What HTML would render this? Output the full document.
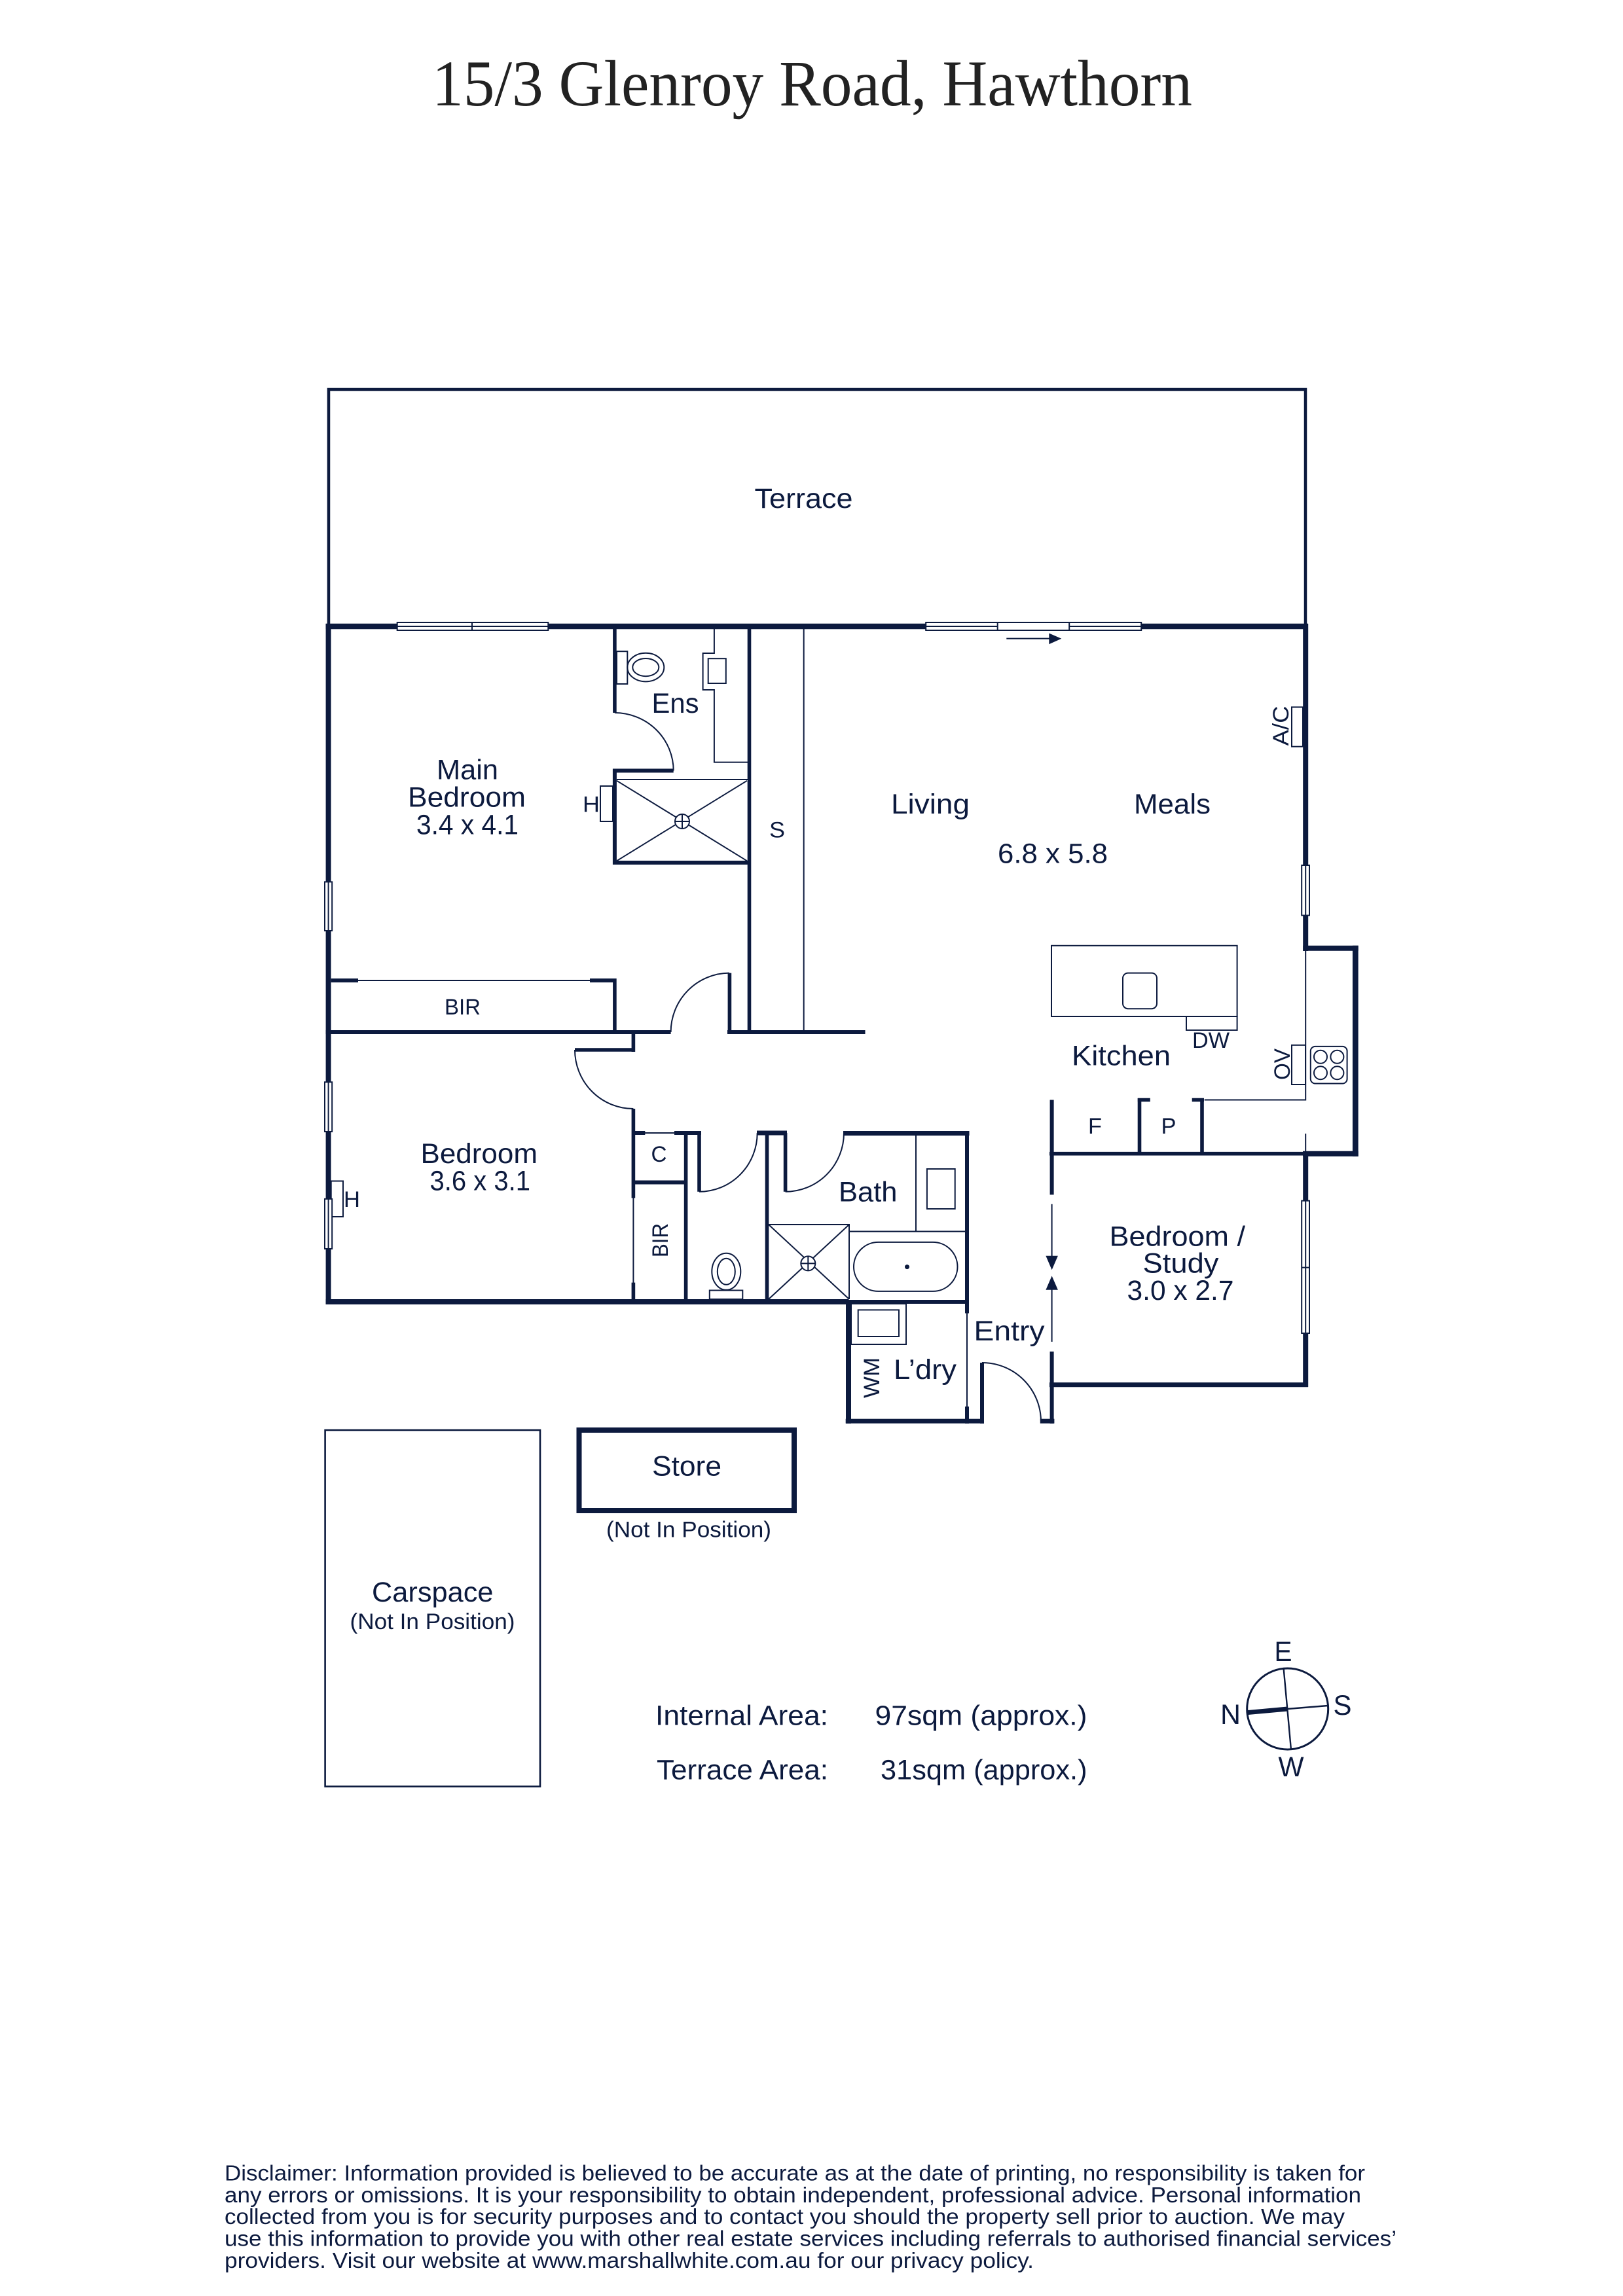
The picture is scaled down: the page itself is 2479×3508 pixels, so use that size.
<!DOCTYPE html>
<html lang="en">
<head>
<meta charset="utf-8">
<title>15/3 Glenroy Road, Hawthorn</title>
<style>
html,body{margin:0;padding:0;background:#fff;}
svg{display:block;}
text{font-family:"Liberation Sans",sans-serif;fill:#0c1a3e;stroke:none;}
.t41{font-size:42.5px;}
.t33{font-size:34px;}
.d{font-size:33px;}
.title{font-family:"Liberation Serif",serif;font-size:100px;fill:#222;}
.w8{stroke-width:8;}
.w7{stroke-width:7;}
.w6{stroke-width:6;}
.w5{stroke-width:5.6;}
.th{stroke-width:2;}
.win{fill:#fff;stroke-width:2;}
</style>
</head>
<body>
<svg xmlns="http://www.w3.org/2000/svg" width="2479" height="3508" viewBox="0 0 2479 3508">
<rect width="2479" height="3508" fill="#fff"/>
<text class="title" x="660" y="161" textLength="1161" lengthAdjust="spacingAndGlyphs">15/3 Glenroy Road, Hawthorn</text>

<g fill="none" stroke="#0c1a3e">
<!-- terrace -->
<path d="M502 957V595H1994V957" stroke-width="4.5"/>

<!-- outer walls -->
<path class="w8" d="M497.6 957H1998" style="stroke-width:8.6"/>
<path class="w8" d="M501.6 953V1993"/>
<path class="w8" d="M497.6 1989H1296"/>
<path class="w6" d="M1296 1989H1480"/>
<path class="w8" d="M1994.2 953V1453"/>
<path class="w8" d="M1990.2 1448.7H2074.7"/>
<path d="M2070.3 1444.7V1766.7" stroke-width="8.7"/>
<path class="w5" d="M1603 1762.7H1994"/>
<path class="w8" d="M1990 1762.7H2074.7"/>
<path class="w8" d="M1994.2 1759V2119"/>
<path class="w7" d="M1603 2115.7H1998"/>
<path class="w6" d="M1606.6 1680.5V1825.4M1606.6 2065V2175"/>
<path class="w7" d="M1588.8 2171.3H1610.4"/>

<!-- ensuite -->
<path class="w5" d="M938.9 957V1089"/>
<path class="w6" d="M1028.7 1177.5H938.9V1321M936 1318H1147"/>
<path class="th" d="M938.9 1089A90 88.5 0 0 1 1028.7 1177.5"/>
<rect class="th" x="942" y="995.2" width="16.3" height="49.8"/>
<ellipse class="th" cx="986.3" cy="1019.6" rx="28" ry="21.8"/>
<ellipse class="th" cx="986.3" cy="1019.6" rx="20" ry="13.6"/>
<path class="th" d="M1090.9 961V998H1073.6V1054H1090.9V1164.6H1142"/>
<rect class="th" x="1081.7" y="1006.2" width="27.1" height="37.8"/>
<path class="th" d="M942 1191H1142"/>
<path class="th" d="M942 1192.8L1141 1315.3M1141 1192.8L942 1315.3"/>
<circle cx="1042" cy="1255" r="11" fill="#fff" stroke-width="2"/>
<path class="th" d="M1031 1255H1053M1042 1244V1266"/>
<rect class="th" x="917" y="1201" width="19" height="54"/>

<!-- store strip -->
<path class="w5" d="M1144.5 957V1577"/>
<path class="th" d="M1227.7 957V1577"/>

<!-- BIR main -->
<path class="th" d="M547 1498H901"/>
<path class="w6" d="M505.7 1498H547M901 1498H939"/>
<path class="w5" d="M938.9 1495V1577"/>
<path class="w6" d="M497.6 1577H1024.6M1111 1577H1321.5"/>

<!-- main door -->
<path class="w5" d="M1114.4 1486.6V1577"/>
<path class="th" d="M1113.9 1486.6A90 90.4 0 0 0 1024.6 1577"/>

<!-- bedroom door -->
<path class="w5" d="M967.4 1577V1607M878 1604H970"/>
<path class="th" d="M878 1604A89.4 90 0 0 0 967.4 1694"/>
<path class="w5" d="M967.4 1694V1830.4M967.4 1959.6V1989"/>
<path class="th" d="M967.4 1830V1960"/>

<!-- C + BIR -->
<path class="w6" d="M970 1731H985.3M1030 1731H1071"/>
<path class="th" d="M985 1731H1030"/>
<path class="w5" d="M1047.6 1731V1989"/>
<path class="w6" d="M967.4 1806.5H1047.6"/>

<!-- wc door -->
<path class="w5" d="M1068 1728V1820.8"/>
<path class="th" d="M1068 1820.8A89 89.8 0 0 0 1156.7 1731"/>
<path class="w7" d="M1156 1731H1202"/>
<path class="w5" d="M1171.5 1731V1989"/>
<ellipse class="th" cx="1109.3" cy="1942.8" rx="22" ry="28"/>
<ellipse class="th" cx="1109.3" cy="1942.8" rx="13.5" ry="20"/>
<rect class="th" x="1083.8" y="1971.5" width="50.5" height="13.5"/>

<!-- bath -->
<path class="w5" d="M1199.6 1731V1820.8"/>
<path class="th" d="M1199.6 1820.8A89.5 89.8 0 0 0 1289 1731"/>
<path class="w7" d="M1288 1731.5H1480.5"/>
<path class="w6" d="M1477 1728V2006.5M1477 2149V2175"/>
<path class="th" d="M1477 2006.5V2149"/>
<path class="th" d="M1399 1734.6V1881.5M1297 1881.5H1475"/>
<rect class="th" x="1415.9" y="1786" width="42.8" height="61"/>
<rect class="th" x="1304" y="1897.9" width="158.5" height="75" rx="37.5" ry="37.5"/>
<circle cx="1385.5" cy="1935.6" r="3.5" fill="#0c1a3e" stroke="none"/>
<path class="th" d="M1174 1871H1297V1985"/>
<path class="th" d="M1174 1871L1297 1985M1297 1871L1174 1985"/>
<circle cx="1234.3" cy="1930.4" r="11" fill="#fff" stroke-width="2"/>
<path class="th" d="M1223.3 1930.4H1245.3M1234.3 1919.4V1941.4"/>

<!-- laundry -->
<path class="w8" d="M1296 1986V2175"/>
<path class="w7" d="M1291.7 2171.3H1502.5"/>
<rect class="th" x="1300" y="1992" width="84" height="62"/>
<rect class="th" x="1310.7" y="2001.4" width="62.3" height="40.6"/>

<!-- entry door -->
<path class="w6" d="M1500 2082V2175"/>
<path class="th" d="M1500 2082A90 90 0 0 1 1590 2172"/>

<!-- sliding arrows -->
<path class="th" d="M1606.6 1839.7V1920M1606.6 1970V2050"/>
<path d="M1597.4 1918.8H1615.9L1606.6 1940.2Z" fill="#0c1a3e" stroke="none"/>
<path d="M1597.4 1970.8H1615.9L1606.6 1949.4Z" fill="#0c1a3e" stroke="none"/>

<!-- kitchen -->
<rect class="th" x="1606" y="1444.8" width="283.6" height="108.2"/>
<rect class="th" x="1715" y="1486.6" width="52" height="54.6" rx="8"/>
<rect class="th" x="1812" y="1553" width="77.6" height="20.9"/>
<path class="th" d="M1994.2 1449V1680.5H1839.7M1994.2 1732V1762"/>
<rect class="th" x="1973" y="1596.8" width="21" height="60.2"/>
<rect class="th" x="2001.8" y="1598.9" width="55.8" height="56.6" rx="7"/>
<circle class="th" cx="2017" cy="1614.7" r="10"/>
<circle class="th" cx="2042.4" cy="1614.7" r="10"/>
<circle class="th" cx="2017" cy="1639.2" r="10"/>
<circle class="th" cx="2042.4" cy="1639.2" r="10"/>
<path class="w5" d="M1740.5 1678V1762M1836 1678V1762"/>
<path class="w5" d="M1737.8 1680.5H1756.8M1820.7 1680.5H1839"/>

<!-- A/C -->
<rect class="th" x="1973" y="1080.4" width="17" height="60.3"/>
<!-- H bedroom -->
<rect class="th" x="505.7" y="1804.5" width="18.3" height="54.5"/>

<!-- windows -->
<rect class="win" x="606.7" y="951" width="230.6" height="12"/>
<path class="th" d="M606.7 957H837.3M721 951V963"/>
<rect class="win" x="1414.2" y="951" width="329" height="12"/>
<path class="th" d="M1414.2 957H1523.7M1633.2 957H1743.2M1523.7 951V963M1633.2 951V963"/>
<rect class="win" x="496" y="1347.4" width="11.2" height="74.6"/>
<path class="th" d="M501.6 1347.4V1422"/>
<rect class="win" x="496" y="1653.3" width="11.2" height="75.7"/>
<path class="th" d="M501.6 1653.3V1729"/>
<rect class="win" x="496" y="1831.8" width="11.2" height="76.2"/>
<path class="th" d="M501.6 1831.8V1908"/>
<rect class="win" x="1988.2" y="1322" width="11.8" height="76.6"/>
<path class="th" d="M1994.2 1322V1398.6"/>
<rect class="win" x="1988.2" y="1834.6" width="11.8" height="202.4"/>
<path class="th" d="M1994.2 1834.6V2037M1988.2 1936.6H2000"/>

<!-- door arrow -->
<path class="th" d="M1537.3 975.6H1603"/>
<path d="M1602.3 967.5L1621.3 975.8L1602.3 984.2Z" fill="#0c1a3e" stroke="none"/>

<!-- carspace / store -->
<rect x="496.6" y="2185" width="328.4" height="544.5" stroke-width="2.6"/>
<rect x="884.5" y="2185" width="328.5" height="123" stroke-width="8"/>

<!-- compass -->
<circle cx="1966.7" cy="2611" r="62" stroke-width="3"/>
<path d="M1960.7 2550L1972 2673.3M1966.7 2611L2028.3 2606" stroke-width="2.4"/>
<path d="M1904.3 2616.7L1966.7 2611" stroke-width="7"/>
</g>

<!-- labels -->
<text class="t41" x="1152.5" y="776" textLength="150" lengthAdjust="spacingAndGlyphs">Terrace</text>
<text class="t41" x="995.5" y="1089" textLength="72" lengthAdjust="spacingAndGlyphs">Ens</text>
<text class="t41" x="667" y="1190.4" textLength="94" lengthAdjust="spacingAndGlyphs">Main</text>
<text class="t41" x="623" y="1232.5" textLength="180" lengthAdjust="spacingAndGlyphs">Bedroom</text>
<text class="t41" x="636" y="1274.6" textLength="156" lengthAdjust="spacingAndGlyphs">3.4 x 4.1</text>
<text class="t33" x="890" y="1240.7" textLength="26" lengthAdjust="spacingAndGlyphs">H</text>
<text class="t33" x="1175" y="1279.4" textLength="24" lengthAdjust="spacingAndGlyphs">S</text>
<text class="t33" x="679" y="1549.8" textLength="55" lengthAdjust="spacingAndGlyphs">BIR</text>
<text class="t41" x="1361" y="1243" textLength="120" lengthAdjust="spacingAndGlyphs">Living</text>
<text class="t41" x="1732" y="1243" textLength="117" lengthAdjust="spacingAndGlyphs">Meals</text>
<text class="t41" x="1524" y="1318.7" textLength="168" lengthAdjust="spacingAndGlyphs">6.8 x 5.8</text>
<text class="t41" x="1637" y="1627.4" textLength="151" lengthAdjust="spacingAndGlyphs">Kitchen</text>
<text class="t33" x="1821" y="1601" textLength="57" lengthAdjust="spacingAndGlyphs">DW</text>
<text class="t33" x="1662" y="1732" textLength="21" lengthAdjust="spacingAndGlyphs">F</text>
<text class="t33" x="1773.5" y="1732" textLength="23" lengthAdjust="spacingAndGlyphs">P</text>
<text class="t33" transform="translate(1970 1650) rotate(-90)" textLength="48" lengthAdjust="spacingAndGlyphs">OV</text>
<text class="t33" transform="translate(1968 1139.5) rotate(-90)" textLength="61" lengthAdjust="spacingAndGlyphs">A/C</text>
<text class="t41" x="642.5" y="1776.8" textLength="178.5" lengthAdjust="spacingAndGlyphs">Bedroom</text>
<text class="t41" x="656.5" y="1818.4" textLength="153.5" lengthAdjust="spacingAndGlyphs">3.6 x 3.1</text>
<text class="t33" x="525" y="1843.8" textLength="25" lengthAdjust="spacingAndGlyphs">H</text>
<text class="t33" x="994.5" y="1775" textLength="24" lengthAdjust="spacingAndGlyphs">C</text>
<text class="t33" transform="translate(1020 1921) rotate(-90)" textLength="52" lengthAdjust="spacingAndGlyphs">BIR</text>
<text class="t41" x="1281" y="1835.6" textLength="89.5" lengthAdjust="spacingAndGlyphs">Bath</text>
<text class="t41" x="1694.5" y="1903.5" textLength="207.5" lengthAdjust="spacingAndGlyphs">Bedroom /</text>
<text class="t41" x="1745.5" y="1944.3" textLength="116" lengthAdjust="spacingAndGlyphs">Study</text>
<text class="t41" x="1721.5" y="1986" textLength="163" lengthAdjust="spacingAndGlyphs">3.0 x 2.7</text>
<text class="t41" x="1487.5" y="2048" textLength="108" lengthAdjust="spacingAndGlyphs">Entry</text>
<text class="t41" x="1365" y="2107" textLength="96" lengthAdjust="spacingAndGlyphs">L’dry</text>
<text class="t33" transform="translate(1343 2136) rotate(-90)" textLength="62" lengthAdjust="spacingAndGlyphs">WM</text>
<text class="t41" x="996" y="2254.5" textLength="106" lengthAdjust="spacingAndGlyphs">Store</text>
<text class="t33" x="926" y="2348.7" textLength="252" lengthAdjust="spacingAndGlyphs">(Not In Position)</text>
<text class="t41" x="568" y="2447" textLength="185.5" lengthAdjust="spacingAndGlyphs">Carspace</text>
<text class="t33" x="534.5" y="2489" textLength="252" lengthAdjust="spacingAndGlyphs">(Not In Position)</text>
<text class="t41" x="1001" y="2635.3" textLength="264" lengthAdjust="spacingAndGlyphs">Internal Area:</text>
<text class="t41" x="1336.5" y="2635.3" textLength="324" lengthAdjust="spacingAndGlyphs">97sqm (approx.)</text>
<text class="t41" x="1003" y="2718.7" textLength="262" lengthAdjust="spacingAndGlyphs">Terrace Area:</text>
<text class="t41" x="1345" y="2718.7" textLength="315.5" lengthAdjust="spacingAndGlyphs">31sqm (approx.)</text>
<text class="t41" x="1946.5" y="2538" textLength="27" lengthAdjust="spacingAndGlyphs">E</text>
<text class="t41" x="2036.5" y="2620" textLength="28" lengthAdjust="spacingAndGlyphs">S</text>
<text class="t41" x="1864" y="2634" textLength="31" lengthAdjust="spacingAndGlyphs">N</text>
<text class="t41" x="1952.5" y="2714" textLength="39" lengthAdjust="spacingAndGlyphs">W</text>

<text class="d" x="343" y="3331.7" textLength="1742" lengthAdjust="spacingAndGlyphs">Disclaimer: Information provided is believed to be accurate as at the date of printing, no responsibility is taken for</text>
<text class="d" x="343" y="3365" textLength="1736" lengthAdjust="spacingAndGlyphs">any errors or omissions. It is your responsibility to obtain independent, professional advice. Personal information</text>
<text class="d" x="343" y="3398" textLength="1711" lengthAdjust="spacingAndGlyphs">collected from you is for security purposes and to contact you should the property sell prior to auction. We may</text>
<text class="d" x="343" y="3431.7" textLength="1790" lengthAdjust="spacingAndGlyphs">use this information to provide you with other real estate services including referrals to authorised financial services’</text>
<text class="d" x="343" y="3465" textLength="1236" lengthAdjust="spacingAndGlyphs">providers. Visit our website at www.marshallwhite.com.au for our privacy policy.</text>
</svg>
</body>
</html>
